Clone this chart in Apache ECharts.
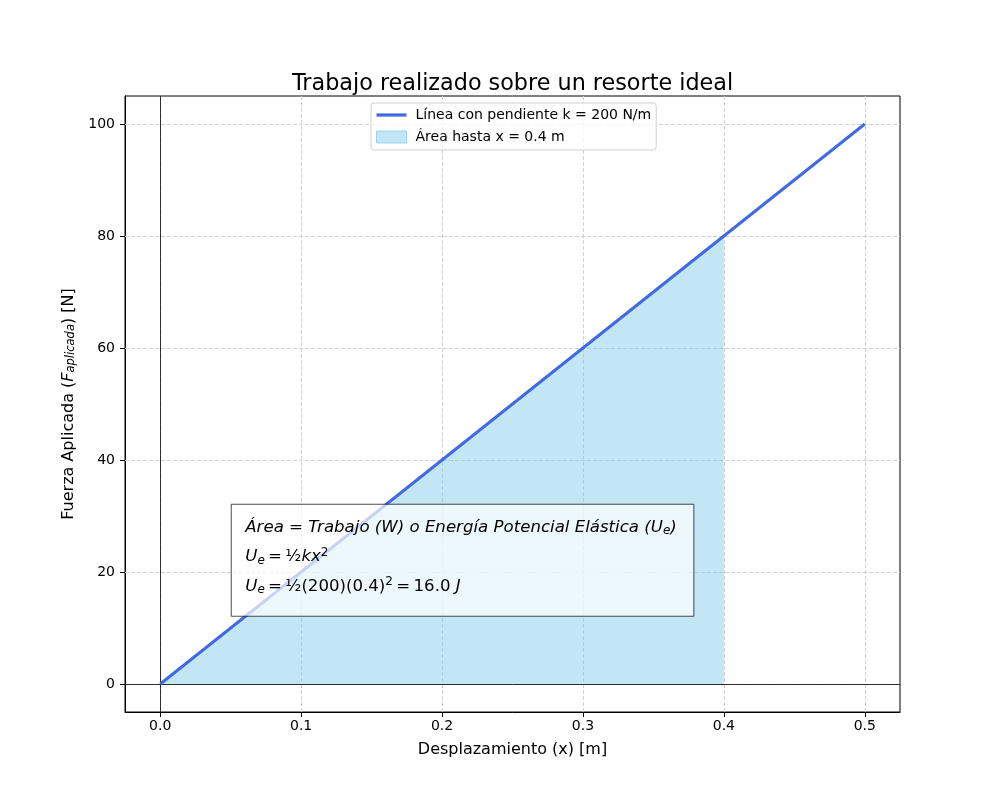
<!DOCTYPE html>
<html>
<head>
<meta charset="utf-8">
<script src="https://cdn.jsdelivr.net/npm/echarts@6/dist/echarts.min.js"></script>
<style>html,body{margin:0;padding:0;background:#fff}#c{width:1000px;height:800px}</style>
</head>
<body>
<div id="c"></div>
<script>
// Data
const lineX = [0, 0.5];
const lineF = [0, 100];
const areaX = [0, 0.4];
const areaF = [0, 80];
const xTicks = [0, 0.1, 0.2, 0.3, 0.4, 0.5];
const yTicks = [0, 20, 40, 60, 80, 100];
const lineName = 'Línea con pendiente k = 200 N/m';
const areaName = 'Área hasta x = 0.4 m';

const FONT = 'DejaVu Sans';
const chart = echarts.init(document.getElementById('c'), null, {renderer: 'canvas'});

const gridLineStyle = {color: '#d0d0d0', type: [4, 2], width: 1};
const gridMarks = [
  ...xTicks.map(v => ({xAxis: v, lineStyle: gridLineStyle})),
  ...yTicks.map(v => ({yAxis: v, lineStyle: gridLineStyle})),
  {xAxis: 0, lineStyle: {color: '#000', width: 0.8, type: 'solid'}},
  {yAxis: 0, lineStyle: {color: '#000', width: 0.8, type: 'solid'}}
];

const option = {
  backgroundColor: '#fff',
  animation: false,
  textStyle: {fontFamily: FONT},
  title: {
    text: 'Trabajo realizado sobre un resorte ideal',
    left: 287, top: 68,
    textStyle: {fontFamily: FONT, fontSize: 22.3, fontWeight: 'normal', color: '#000'}
  },
  grid: {left: 125, right: 100, top: 96, bottom: 88, show: true, borderColor: '#000', borderWidth: 1, backgroundColor: 'transparent'},
  legend: {
    orient: 'vertical', left: 371, top: 103,
    padding: [5, 5, 6, 5], itemGap: 8,
    borderColor: '#d0d0d0', borderWidth: 1, borderRadius: 3,
    backgroundColor: 'rgba(255,255,255,0.8)',
    itemWidth: 30, itemHeight: 12,
    textStyle: {fontFamily: FONT, fontSize: 14, color: '#000', padding: [0, 0, 0, 4]},
    data: [
      {name: lineName, icon: 'path://M0,0 L28,0 L28,3 L0,3 Z', itemStyle: {color: '#4169E1'}},
      {name: areaName, icon: 'rect', itemStyle: {color: 'rgba(135,206,235,0.5)', borderColor: 'rgba(135,206,235,0.8)', borderWidth: 1}}
    ]
  },
  xAxis: {
    type: 'value', min: -0.025, max: 0.525,
    name: 'Desplazamiento (x) [m]', nameLocation: 'middle', nameGap: 30,
    nameTextStyle: {fontFamily: FONT, fontSize: 16, color: '#000'},
    axisLine: {show: true, onZero: false, lineStyle: {color: '#000'}},
    axisTick: {show: true, length: 5, inside: false, customValues: xTicks, lineStyle: {color: '#000'}},
    axisLabel: {color: '#000', fontSize: 14, margin: 7, fontFamily: FONT, customValues: xTicks,
      formatter: v => Number(v).toFixed(1)},
    splitLine: {show: false}
  },
  yAxis: {
    type: 'value', min: -5, max: 105,
    name: '{n|Fuerza Aplicada (}{i|F}{s|aplicada}{n|) [N]}', nameLocation: 'middle', nameGap: 47, nameRotate: 90,
    nameTextStyle: {fontFamily: FONT, fontSize: 16, color: '#000',
      rich: {
        n: {fontFamily: FONT, fontSize: 16, color: '#000'},
        i: {fontFamily: FONT, fontSize: 16, fontStyle: 'italic', color: '#000'},
        s: {fontFamily: FONT, fontSize: 11.5, fontStyle: 'italic', color: '#000', verticalAlign: 'bottom', padding: [6, 0, 0, 0]}
      }},
    axisLine: {show: true, onZero: false, lineStyle: {color: '#000'}},
    axisTick: {show: true, length: 5, inside: false, customValues: yTicks, lineStyle: {color: '#000'}},
    axisLabel: {color: '#000', fontSize: 14, margin: 10, fontFamily: FONT, customValues: yTicks},
    splitLine: {show: false}
  },
  series: [
    {
      name: areaName, type: 'line', data: areaX.map((x, i) => [x, areaF[i]]),
      showSymbol: false, symbol: 'none', z: 2,
      lineStyle: {width: 0, color: 'rgba(135,206,235,0.5)'},
      itemStyle: {color: 'rgba(135,206,235,0.5)'},
      areaStyle: {color: 'rgba(135,206,235,0.5)', origin: 0, opacity: 1},
      markLine: {
        silent: true, symbol: 'none', label: {show: false}, z: 1,
        data: gridMarks
      }
    },
    {
      name: lineName, type: 'line', data: lineX.map((x, i) => [x, lineF[i]]),
      showSymbol: false, symbol: 'none', z: 3,
      lineStyle: {width: 3, color: '#4169E1'},
      itemStyle: {color: '#4169E1'}
    }
  ]
};
chart.setOption(option);

// Annotation box, anchored in data coordinates
const p0 = chart.convertToPixel({gridIndex: 0}, [0.0504, 32.1]);
const p1 = chart.convertToPixel({gridIndex: 0}, [0.3787, 12.1]);
const FS = 16.6;
const rich = {
  i: {fontFamily: FONT, fontSize: FS, fontStyle: 'italic', color: '#000'},
  n: {fontFamily: FONT, fontSize: FS, color: '#000'},
  sb: {fontFamily: FONT, fontSize: 12, fontStyle: 'italic', color: '#000', verticalAlign: 'bottom', padding: [7, 0, 0, 0]},
  sp: {fontFamily: FONT, fontSize: 12, color: '#000', verticalAlign: 'top', padding: [0, 0, 8, 0]}
};
const TS = '\u2009';
const lines = [
  '{i|Área = Trabajo (W) o Energía Potencial Elástica (U}{sb|e}{i|)}',
  '{i|U}{sb|e}{n|' + TS + '=' + TS + '½}{i|kx}{sp|2}',
  '{i|U}{sb|e}{n|' + TS + '=' + TS + '½(200)(0.4)}{sp|2}{n|' + TS + '=' + TS + '16.0 }{i|J}'
];
chart.setOption({
  graphic: [
    {type: 'rect', z: 100, shape: {x: p0[0], y: p0[1], width: p1[0] - p0[0], height: p1[1] - p0[1]},
     style: {fill: 'rgba(255,255,255,0.7)', stroke: 'rgba(0,0,0,0.7)', lineWidth: 1}},
    ...lines.map((t, k) => ({
      type: 'text', z: 101, x: p0[0] + 14, y: p0[1] + 23 + k * 29.5,
      style: {text: t, rich: rich, fontFamily: FONT, fontSize: FS, fill: '#000', textVerticalAlign: 'middle', verticalAlign: 'middle'}
    }))
  ]
});
</script>
</body>
</html>
